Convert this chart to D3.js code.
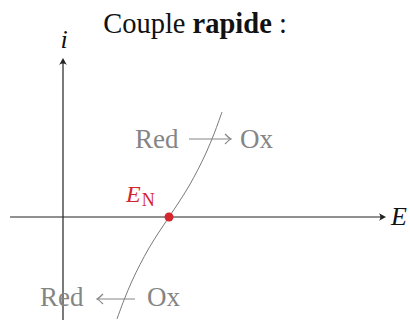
<!DOCTYPE html>
<html>
<head>
<meta charset="utf-8">
<script src="https://cdn.jsdelivr.net/npm/d3@7"></script>
<style>
  html, body { margin: 0; padding: 0; background: #fff; }
  svg { display: block; }
  text { font-family: "Liberation Serif", "DejaVu Serif", serif; }
</style>
</head>
<body>
<svg id="chart" width="410" height="320"></svg>
<script>
// Potential axis (E) and current axis (i), arbitrary units
const eRange = [-2.65, 16.15];
const iRange = [-5.15, 7.95];

// i–E curve of a fast redox couple, sampled points (E, i)
const curveE = [2.70, 3.05, 3.45, 3.85, 4.30, 4.80, 5.30, 5.80, 6.30, 6.75, 7.15, 7.55, 7.95];
const curveI = [-5.10, -4.15, -3.20, -2.38, -1.55, -0.75, 0, 0.75, 1.55, 2.38, 3.20, 4.15, 5.25];

// Nernst potential, where the current is zero
const nernstE = 5.30;
const nernstI = 0;

// Reaction labels: E and i of the text baseline start, and the direction
const reactionLabels = [
  { red: "Red", ox: "Ox", E: 3.60, i: 3.45, dir: "ox" },
  { red: "Red", ox: "Ox", E: -1.15, i: -4.45, dir: "red" }
];

const title = ["Couple ", "rapide", " :"];

const svg = d3.select("#chart");

const x = d3.scaleLinear().domain(eRange).range([10, 386]);
const y = d3.scaleLinear().domain(iRange).range([320, 58]);

const x0 = x(0), y0 = y(0);

// Curve
const pts = curveE.map((e, k) => [e, curveI[k]]);
svg.append("path")
  .datum(pts)
  .attr("fill", "none")
  .attr("stroke", "#7a7a7a")
  .attr("stroke-width", 1)
  .attr("d", d3.line().x(d => x(d[0])).y(d => y(d[1])).curve(d3.curveCatmullRom));

// Axes
const axisColor = "#222";
svg.append("line")
  .attr("x1", x(eRange[0])).attr("x2", x(eRange[1]) - 2)
  .attr("y1", y0).attr("y2", y0)
  .attr("stroke", axisColor).attr("stroke-width", 1.2);
svg.append("line")
  .attr("x1", x0).attr("x2", x0)
  .attr("y1", y(iRange[0])).attr("y2", y(iRange[1]) + 2)
  .attr("stroke", axisColor).attr("stroke-width", 1.2);

// Arrow head pointing in +x direction at origin, then rotated into place
function stealth(g, px, py, angle, color, size) {
  const s = size;
  g.append("path")
    .attr("d", `M0,0 L${-s},${-s * 0.55} Q${-s * 0.6},0 ${-s},${s * 0.55} Z`)
    .attr("fill", color)
    .attr("transform", `translate(${px},${py}) rotate(${angle})`);
}
stealth(svg, x(eRange[1]), y0, 0, axisColor, 7);
stealth(svg, x0, y(iRange[1]), -90, axisColor, 7);

svg.append("text")
  .attr("x", 391).attr("y", y0 + 8)
  .attr("font-size", 26).attr("font-style", "italic")
  .attr("fill", "#111")
  .text("E");
svg.append("text")
  .attr("x", x0 + 1).attr("y", 48)
  .attr("text-anchor", "middle")
  .attr("font-size", 26).attr("font-style", "italic")
  .attr("fill", "#111")
  .text("i");

// Thin reaction arrow with curved barbs
function reactionArrow(g, xa, xb, yy, color) {
  g.append("line")
    .attr("x1", xa).attr("x2", xb).attr("y1", yy).attr("y2", yy)
    .attr("stroke", color).attr("stroke-width", 1.1);
  const dir = xb > xa ? 1 : -1;
  const b = 6 * dir;
  g.append("path")
    .attr("d", `M${xb - b},${yy - 5} Q${xb - b * 0.3},${yy - 0.8} ${xb},${yy} Q${xb - b * 0.3},${yy + 0.8} ${xb - b},${yy + 5}`)
    .attr("fill", "none").attr("stroke", color).attr("stroke-width", 1.1);
}

const labelColor = "#858585";
const labelSize = 27;
reactionLabels.forEach(r => {
  const gx = x(r.E), gy = y(r.i);
  const g = svg.append("g").attr("transform", `translate(${gx},${gy})`);
  g.append("text").attr("x", 0).attr("y", 0)
    .attr("font-size", labelSize).attr("fill", labelColor).text(r.red);
  if (r.dir === "ox") reactionArrow(g, 54, 96, -9, labelColor);
  else reactionArrow(g, 95, 57, -7, labelColor);
  g.append("text").attr("x", r.dir === "ox" ? 105 : 107).attr("y", 0)
    .attr("font-size", labelSize).attr("fill", labelColor).text(r.ox);
});

// Nernst point
const red = "#d3262f";
svg.append("circle")
  .attr("cx", x(nernstE)).attr("cy", y(nernstI)).attr("r", 4.5)
  .attr("fill", red);
const en = svg.append("text")
  .attr("x", 126).attr("y", 202)
  .attr("fill", red);
en.append("tspan").attr("font-size", 24).attr("font-style", "italic").text("E");
en.append("tspan").attr("font-size", 18).attr("dy", 4).attr("dx", 1).text("N");

// Title
const t = svg.append("text")
  .attr("x", 195).attr("y", 33)
  .attr("text-anchor", "middle")
  .attr("font-size", 28.5).attr("fill", "#111");
t.append("tspan").text(title[0]);
t.append("tspan").attr("font-weight", "bold").text(title[1]);
t.append("tspan").text(title[2]);
</script>
</body>
</html>
